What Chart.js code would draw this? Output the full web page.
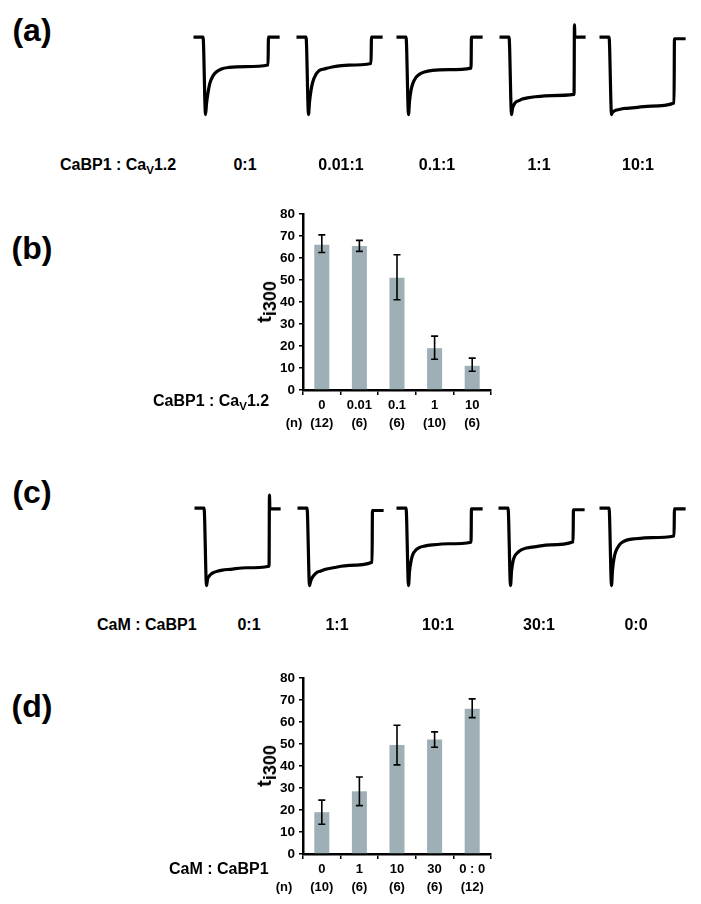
<!DOCTYPE html>
<html><head><meta charset="utf-8">
<script src="https://cdn.jsdelivr.net/npm/chart.js@4.4.0/dist/chart.umd.min.js"></script>
<style>
html,body{margin:0;padding:0;background:#fff;}
body{width:701px;height:904px;position:relative;overflow:hidden;font-family:"Liberation Sans",Arial,sans-serif;font-weight:bold;color:#000;}
.abs{position:absolute;white-space:nowrap;line-height:1;}
.c{transform:translate(-50%,-50%);}
.l{transform:translate(0,-50%);}
.pl{font-size:32px;}
.rl{font-size:16px;}
.nl{font-size:13px;}
.sub{font-size:0.72em;position:relative;top:0.32em;}
.yt{font-size:20px;transform:translate(-50%,-50%) rotate(-90deg);}
.yt .s{font-size:18px;position:relative;top:5px;}
canvas{position:absolute;}
</style></head>
<body>
<div class="abs c pl" style="left:32px;top:30px">(a)</div>
<div class="abs c pl" style="left:32px;top:248px">(b)</div>
<div class="abs c pl" style="left:32px;top:492px">(c)</div>
<div class="abs c pl" style="left:32px;top:706px">(d)</div>
<script>
// ---------- data ----------
// trace time grid (ms, depolarising step from 0 to 1000 ms) and normalised currents
const traceTime = [-150, -3, 35, 50, 75, 100, 150, 200, 280, 400, 650, 997, 1003, 1010, 1175];
const traceA_0_1    = [0, 0, -1.0, -0.86, -0.71, -0.60, -0.50, -0.45, -0.41, -0.39, -0.38, -0.36, 0, 0, 0];
const traceA_001_1  = [0, 0, -1.0, -0.84, -0.68, -0.58, -0.48, -0.43, -0.41, -0.385, -0.36, -0.34, 0, 0, 0];
const traceA_01_1   = [0, 0, -1.0, -0.83, -0.68, -0.60, -0.52, -0.48, -0.45, -0.43, -0.42, -0.40, 0, 0, 0];
const traceA_1_1    = [0, 0, -1.0, -0.92, -0.87, -0.84, -0.82, -0.80, -0.785, -0.77, -0.755, -0.74, 0.16, 0, 0];
const traceA_10_1   = [0, 0, -1.0, -0.97, -0.955, -0.945, -0.935, -0.925, -0.92, -0.91, -0.89, -0.85, -0.02, -0.02, -0.02];
const traceC_0_1    = [0, 0, -1.0, -0.92, -0.88, -0.855, -0.83, -0.815, -0.80, -0.79, -0.77, -0.75, 0.17, -0.01, -0.01];
const traceC_1_1    = [0, 0, -1.0, -0.95, -0.90, -0.87, -0.83, -0.815, -0.79, -0.77, -0.74, -0.70, -0.03, -0.03, -0.03];
const traceC_10_1   = [0, 0, -1.0, -0.82, -0.68, -0.60, -0.54, -0.51, -0.49, -0.475, -0.46, -0.44, -0.01, -0.01, -0.01];
const traceC_30_1   = [0, 0, -1.0, -0.82, -0.68, -0.62, -0.57, -0.54, -0.515, -0.50, -0.475, -0.435, -0.02, -0.02, -0.02];
const traceC_0_0    = [0, 0, -1.0, -0.80, -0.64, -0.56, -0.48, -0.44, -0.41, -0.395, -0.38, -0.36, -0.01, -0.01, -0.01];

const ratioLabelsA = ['0:1', '0.01:1', '0.1:1', '1:1', '10:1'];
const ratioLabelsC = ['0:1', '1:1', '10:1', '30:1', '0:0'];

// bar chart (b)
const bCategories = ['0', '0.01', '0.1', '1', '10'];
const bN = ['(12)', '(6)', '(6)', '(10)', '(6)'];
const bMean = [66, 65.5, 51, 19, 11];
const bLow  = [62.5, 63, 41, 14, 8.5];
const bHigh = [70.5, 68, 61.5, 24.5, 14.5];
// bar chart (d)
const dCategories = ['0', '1', '10', '30', '0 : 0'];
const dN = ['(10)', '(6)', '(6)', '(6)', '(12)'];
const dMean = [19, 28.5, 49.5, 52, 66];
const dLow  = [13.5, 22, 40.5, 48.5, 62];
const dHigh = [24.5, 35, 58.5, 55.5, 70.5];
const yTicks = [0, 10, 20, 30, 40, 50, 60, 70, 80];

// ---------- layout ----------
const tracesA = [traceA_0_1, traceA_001_1, traceA_01_1, traceA_1_1, traceA_10_1];
const tracesC = [traceC_0_1, traceC_1_1, traceC_10_1, traceC_30_1, traceC_0_0];
const stepXA = [203.3, 306.7, 406.7, 509, 609];
const stepXC = [204, 307.3, 406.7, 508.7, 609.3];
const labelXA = [245, 341, 437, 539, 638];
const labelXC = [249, 337, 438, 539, 636];
const T_MIN = -250, T_MAX = 1350, PX_PER_MS = 0.065;
const I_MIN = -1.2, I_MAX = 0.3, PX_PER_UNIT = 77;

Chart.defaults.font.family = '"Liberation Sans", Arial, sans-serif';
Chart.defaults.font.weight = 'bold';
Chart.defaults.color = '#000';

function addEl(html, cls, left, top) {
  const d = document.createElement('div');
  d.className = 'abs ' + cls;
  d.style.left = left + 'px'; d.style.top = top + 'px';
  d.innerHTML = html;
  document.body.appendChild(d);
  return d;
}
function addCanvas(left, top, w, h) {
  const c = document.createElement('canvas');
  c.width = w; c.height = h;
  c.style.left = left + 'px'; c.style.top = top + 'px';
  c.style.width = w + 'px'; c.style.height = h + 'px';
  document.body.appendChild(c);
  return c;
}

function drawTrace(values, stepX, baseY) {
  const w = Math.round((T_MAX - T_MIN) * PX_PER_MS);
  const h = Math.round((I_MAX - I_MIN) * PX_PER_UNIT);
  const left = stepX + T_MIN * PX_PER_MS;
  const top = baseY - I_MAX * PX_PER_UNIT;
  const cv = addCanvas(left, top, w, h);
  new Chart(cv, {
    type: 'line',
    data: { datasets: [{
      data: traceTime.map((t, i) => ({ x: t, y: values[i] })),
      borderColor: '#000', borderWidth: 3.2, pointRadius: 0,
      cubicInterpolationMode: 'monotone', fill: false, clip: false,
      borderJoinStyle: 'round', borderCapStyle: 'butt'
    }]},
    options: {
      responsive: false, animation: false, events: [], devicePixelRatio: 1,
      layout: { padding: 0 },
      plugins: { legend: { display: false }, tooltip: { enabled: false } },
      scales: {
        x: { type: 'linear', display: false, min: T_MIN, max: T_MAX },
        y: { type: 'linear', display: false, min: I_MIN, max: I_MAX }
      }
    }
  });
}

tracesA.forEach((v, i) => drawTrace(v, stepXA[i], 37.5));
tracesC.forEach((v, i) => drawTrace(v, stepXC[i], 508.5));

// condition rows
addEl('CaBP1 : Ca<span class="sub">V</span>1.2', 'l rl', 60, 165);
ratioLabelsA.forEach((t, i) => addEl(t, 'c rl', labelXA[i], 165));
addEl('CaM : CaBP1', 'l rl', 97, 625);
ratioLabelsC.forEach((t, i) => addEl(t, 'c rl', labelXC[i], 625));

// ---------- bar charts ----------
const errorBars = {
  id: 'errorBars',
  afterDatasetsDraw(chart, args, opts) {
    const { ctx, scales: { x, y } } = chart;
    ctx.save();
    ctx.strokeStyle = '#000';
    ctx.lineWidth = 1.6;
    opts.low.forEach((lo, i) => {
      const px = x.getPixelForValue(i);
      const yl = y.getPixelForValue(lo), yh = y.getPixelForValue(opts.high[i]);
      ctx.beginPath();
      ctx.moveTo(px, yl); ctx.lineTo(px, yh);
      ctx.moveTo(px - 3.5, yl); ctx.lineTo(px + 3.5, yl);
      ctx.moveTo(px - 3.5, yh); ctx.lineTo(px + 3.5, yh);
      ctx.stroke();
    });
    ctx.restore();
  }
};

function barChart(top, cats, ns, mean, low, high) {
  const cv = addCanvas(200, top, 310, 240);
  new Chart(cv, {
    type: 'bar',
    data: {
      labels: cats.map((c, i) => [c, ns[i]]),
      datasets: [{ data: mean, backgroundColor: '#9eb0b5', borderWidth: 0,
        barPercentage: 0.4, categoryPercentage: 1 }]
    },
    options: {
      responsive: false, animation: false, events: [], devicePixelRatio: 1,
      layout: { padding: { top: 14, right: 19, left: 0, bottom: 0 } },
      plugins: { legend: { display: false }, tooltip: { enabled: false },
        errorBars: { low, high } },
      scales: {
        x: {
          offset: true,
          grid: { offset: true, drawOnChartArea: false, drawTicks: true, tickLength: 5, color: '#000', lineWidth: 1.5 },
          border: { display: true, color: '#000', width: 2.5 },
          ticks: { font: { size: 13, weight: 'bold', lineHeight: 1.35 }, padding: 2, color: '#000', maxRotation: 0, autoSkip: false },
          afterFit(s) { s.height = 50; }
        },
        y: {
          min: 0, max: 80,
          afterBuildTicks(s) { s.ticks = yTicks.map(v => ({ value: v })); },
          grid: { drawOnChartArea: false, drawTicks: true, tickLength: 4, color: '#000', lineWidth: 1.5 },
          border: { display: true, color: '#000', width: 2.5 },
          ticks: { font: { size: 13.5, weight: 'bold' }, padding: 4, color: '#000' },
          afterFit(s) { s.width = 103; }
        }
      }
    },
    plugins: [errorBars]
  });
}
barChart(200, bCategories, bN, bMean, bLow, bHigh);
barChart(664, dCategories, dN, dMean, dLow, dHigh);

addEl('CaBP1 : Ca<span class="sub">V</span>1.2', 'l rl', 153, 401);
addEl('(n)', 'c nl', 294, 422);
addEl('t<span class="s">i300</span>', 'yt', 264, 302);
addEl('CaM : CaBP1', 'l rl', 169, 869);
addEl('(n)', 'c nl', 284, 886);
addEl('t<span class="s">i300</span>', 'yt', 264, 766);
</script>
</body></html>
